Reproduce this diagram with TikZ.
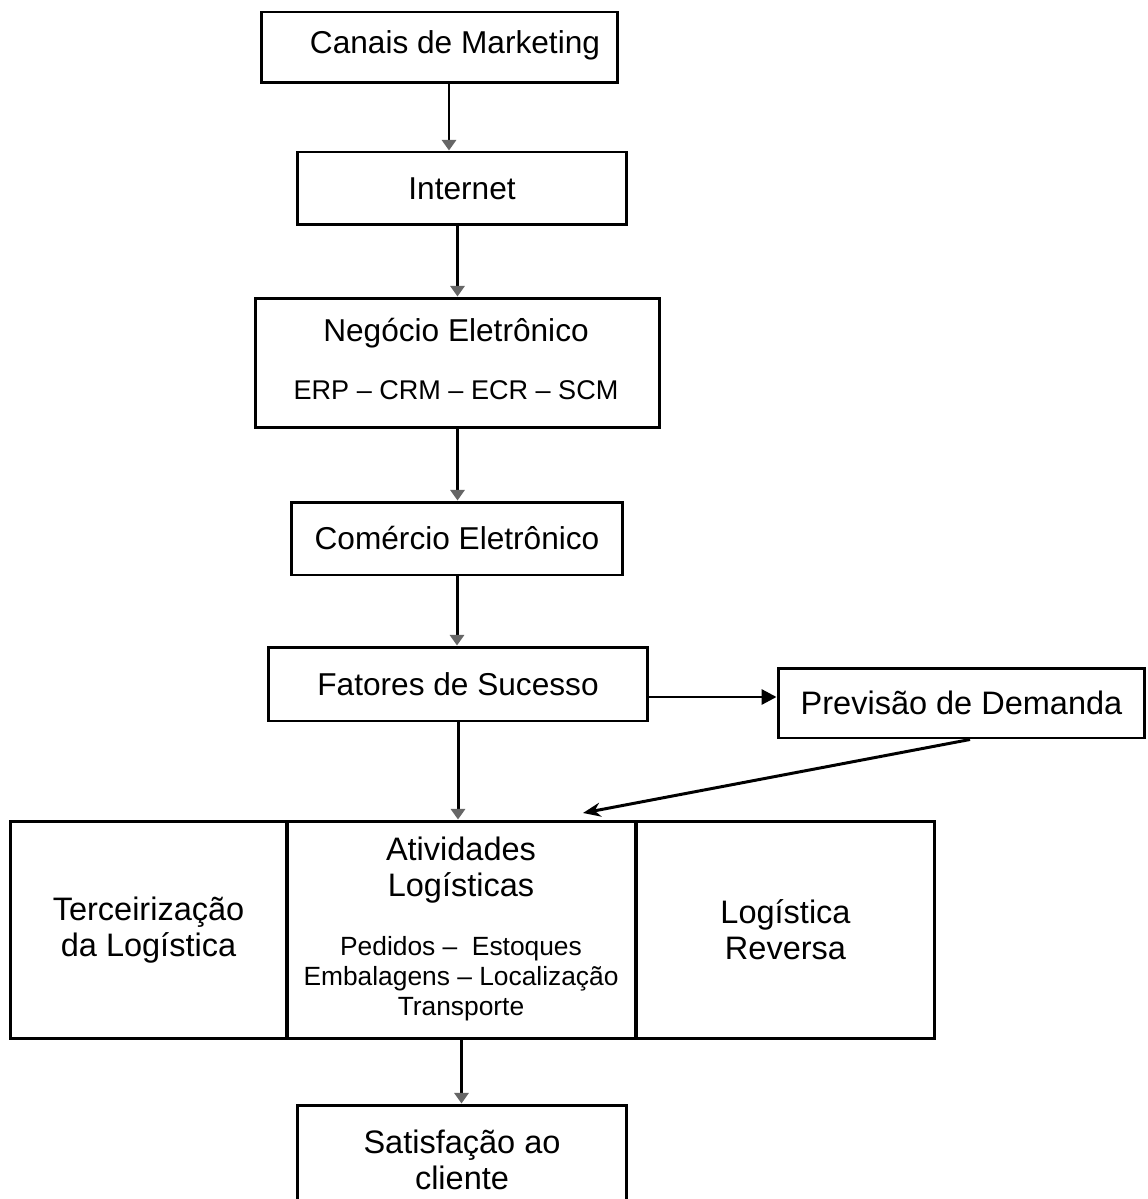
\documentclass[tikz,border=0pt]{standalone}
\usepackage{fontspec}
\setmainfont{Liberation Sans}
\usetikzlibrary{arrows.meta,calc}
\begin{document}
\begin{tikzpicture}[x=0.02cm,y=-0.02cm,
  box/.style={draw, line width=1.7pt, inner sep=0pt},
  title/.style={font=\fontsize{18}{20.5}\selectfont, align=center, inner sep=0pt},
  big/.style={font=\fontsize{18.5}{20.5}\selectfont, align=center, inner sep=0pt},
  sub/.style={font=\fontsize{15}{17}\selectfont, align=center, inner sep=0pt},
  acr/.style={font=\fontsize{15.4}{18}\selectfont, inner sep=0pt},
  flow/.style={line width=1.7pt, -{Triangle[length=6pt,width=8pt,color=black!60]}},
  rarrow/.style={line width=1.7pt, -{Triangle[length=8.5pt,width=8.5pt]}},
  darrow/.style={line width=1.7pt, -{Stealth[length=10pt,width=8pt]}}]

\useasboundingbox (0,0) rectangle (1148,1199);
\clip (0,0) rectangle (1148,1199);

% main chain of boxes
\node[box, minimum width=7.14cm, minimum height=1.42cm] (canais) at (439.5,47.5) {};
\node[title] (canaisT) at (455,45) {Canais de Marketing};

\node[box, title, minimum width=6.60cm, minimum height=1.46cm] (internet) at (462,188.5) {Internet};

\node[box, minimum width=8.10cm, minimum height=2.60cm] (negocio) at (457.5,363) {};
\node[title] (negocioT) at (456,333) {Negócio Eletrônico};
\node[acr] (negocioS) at (456,390) {ERP – CRM – ECR – SCM};

\node[box, title, minimum width=6.64cm, minimum height=1.46cm] (comercio) at (457,538.5) {Comércio Eletrônico};

\node[box, title, minimum width=7.60cm, minimum height=1.48cm] (fatores) at (458,684) {Fatores de Sucesso};

\node[box, big, minimum width=7.34cm, minimum height=1.40cm] (previsao) at (961.5,703) {Previsão de Demanda};

% logistics row
\node[box, big, minimum width=5.54cm, minimum height=4.36cm] (terc) at (148.5,930) {Terceirização\\da Logística};
\node[box, minimum width=6.98cm, minimum height=4.36cm] (mid) at (461.5,930) {};
\node[big] (midT) at (461,870) {Atividades\\Logísticas};
\node[sub] (midS) at (461,979) {Pedidos –\ \ Estoques\\Embalagens – Localização\\Transporte};
\node[box, big, minimum width=5.98cm, minimum height=4.36cm] (rev) at (785.5,930) {Logística\\Reversa};

\node[box, big, minimum width=6.60cm, minimum height=2.20cm] (satisf) at (462,1160) {Satisfação ao\\cliente};

% connectors
\draw[flow] ([xshift=0.19cm]canais.south) -- ([xshift=0.19cm]canais.south |- internet.north);
\draw[flow] (internet.south -| negocio.north) -- (negocio.north);
\draw[flow] (negocio.south) -- (negocio.south |- comercio.north);
\draw[flow] (comercio.south) -- (comercio.south |- fatores.north);
\draw[flow] (fatores.south) -- (fatores.south |- mid.north);
\draw[flow] (mid.south) -- (mid.south |- satisf.north);
\draw[rarrow] ([yshift=-0.26cm]fatores.east) -- ([yshift=-0.26cm]fatores.east -| previsao.west);
\coordinate (atvin) at (583,813);
\draw[darrow] ([xshift=0.17cm]previsao.south) -- (atvin);
\end{tikzpicture}
\end{document}
